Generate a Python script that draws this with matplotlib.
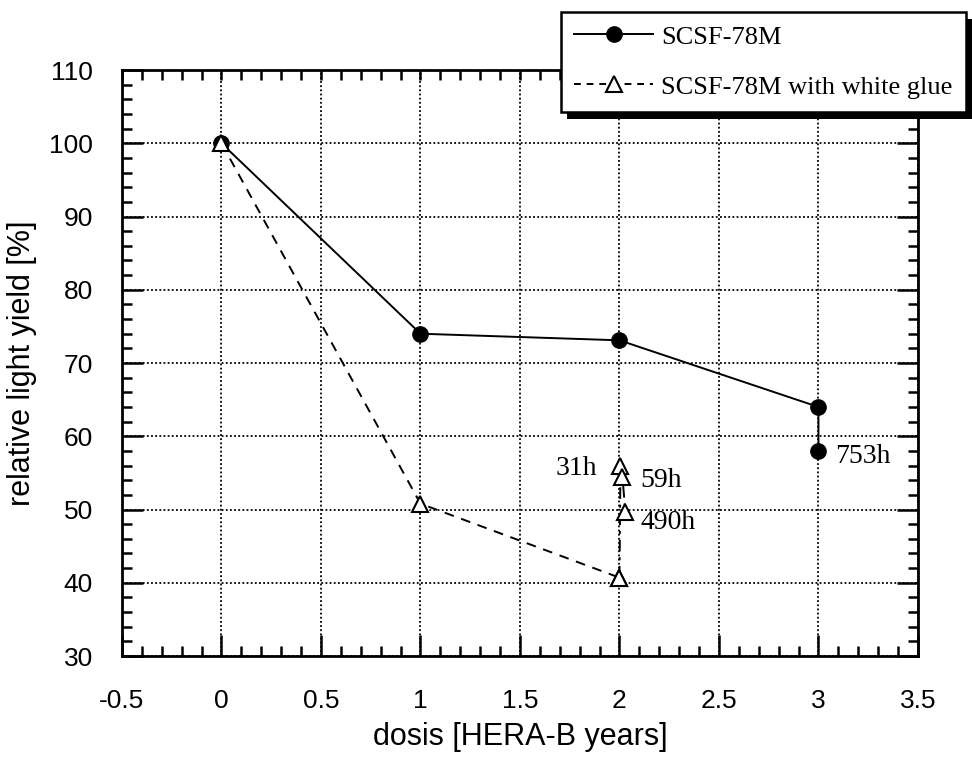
import matplotlib
matplotlib.use("Agg")
import matplotlib.pyplot as plt
from matplotlib.lines import Line2D
from matplotlib.patches import Rectangle
from matplotlib.ticker import MultipleLocator

# Data
x_plain = [0, 1, 2, 3, 3]
y_plain = [100, 74, 73.1, 64, 58]

x_glue = [0, 1, 2]
y_glue = [100, 50.8, 40.7]

x_anneal = [2.0, 2.005, 2.015, 2.03]
y_anneal = [40.7, 55.9, 54.4, 49.6]
anneal_labels = ["31h", "59h", "490h"]
plain_anneal_label = "753h"

xticks = [-0.5, 0, 0.5, 1, 1.5, 2, 2.5, 3, 3.5]
xtick_labels = ["-0.5", "0", "0.5", "1", "1.5", "2", "2.5", "3", "3.5"]
yticks = [30, 40, 50, 60, 70, 80, 90, 100, 110]

sans = "Liberation Sans"
serif = "Liberation Serif"

fig = plt.figure(figsize=(9.72, 7.57), dpi=100)
ax = fig.add_axes([0.1255, 0.1334, 0.8189, 0.7741])

ax.plot(x_plain, y_plain, color="black", lw=1.4, marker="o", ms=11,
        mfc="black", mec="black", zorder=4)
ax.plot(x_glue, y_glue, color="black", lw=1.4, ls=(0, (5, 4)), marker="^",
        ms=11, mfc="white", mec="black", mew=1.5, zorder=4)
ax.plot(x_anneal, y_anneal, color="black", lw=1.4, ls=(0, (6, 3, 1.5, 3)),
        marker="^", ms=11, mfc="white", mec="black", mew=1.5, zorder=4)

ax.set_xlim(-0.5, 3.5)
ax.set_ylim(30, 110)
ax.set_xticks(xticks)
ax.set_xticklabels(xtick_labels)
ax.set_yticks(yticks)
ax.xaxis.set_minor_locator(MultipleLocator(0.1))
ax.yaxis.set_minor_locator(MultipleLocator(2))

ax.grid(True, which="major", color="black", ls=(0, (1, 1.3)), lw=1.3)
for s in ax.spines.values():
    s.set_linewidth(2)

ax.tick_params(which="both", direction="in", top=True, right=True, width=1.8)
ax.tick_params(which="major", length=15, labelsize=19)
ax.tick_params(which="minor", length=7)
ax.tick_params(axis="x", which="major", pad=24)
ax.tick_params(axis="y", which="major", pad=21)
for t in ax.xaxis.get_major_ticks():
    t.tick2line.set_markersize(7)
for lab in ax.get_xticklabels() + ax.get_yticklabels():
    lab.set_fontfamily(sans)

ax.set_xlabel("dosis [HERA-B years]", fontsize=22, family=sans)
ax.set_ylabel("relative light yield [%]", fontsize=22, family=sans)
ax.xaxis.set_label_coords(0.5, -0.113)
ax.yaxis.set_label_coords(-0.107, 0.5)

# annotations
fs_ann = 20
ax.text(1.785, 54.75, anneal_labels[0], family=serif, fontsize=fs_ann,
        ha="center", va="baseline")
ax.text(2.106, 53.1, anneal_labels[1], family=serif, fontsize=fs_ann,
        ha="left", va="baseline")
ax.text(2.106, 47.4, anneal_labels[2], family=serif, fontsize=fs_ann,
        ha="left", va="baseline")
ax.text(3.085, 56.3, plain_anneal_label, family=serif, fontsize=fs_ann,
        ha="left", va="baseline")

# legend
handles = [
    Line2D([], [], color="black", lw=1.4, marker="o", ms=11, mfc="black"),
    Line2D([], [], color="black", lw=1.4, ls=(0, (3.5, 3)), marker="^", ms=11,
           mfc="white", mec="black", mew=1.5),
]
leg = fig.legend(handles, ["SCSF-78M", "SCSF-78M with white glue"],
                 loc="upper left", bbox_to_anchor=(561 / 972, 1 - 12 / 757),
                 prop={"family": serif, "size": 19}, frameon=True,
                 fancybox=False, edgecolor="black", framealpha=1,
                 handlelength=3.0, handletextpad=0.3, borderpad=0.5,
                 labelspacing=1.0, borderaxespad=0)
leg.get_frame().set_linewidth(1.8)
leg.set_zorder(10)

fig.canvas.draw()
bb = leg.get_window_extent().transformed(fig.transFigure.inverted())
dx, dy = 6 / 972, 7 / 757
shadow = Rectangle((bb.x0 + dx, bb.y0 - dy), bb.width, bb.height,
                   transform=fig.transFigure, facecolor="black",
                   edgecolor="none", zorder=9)
fig.patches.append(shadow)

fig.savefig("out.png", dpi=100)
